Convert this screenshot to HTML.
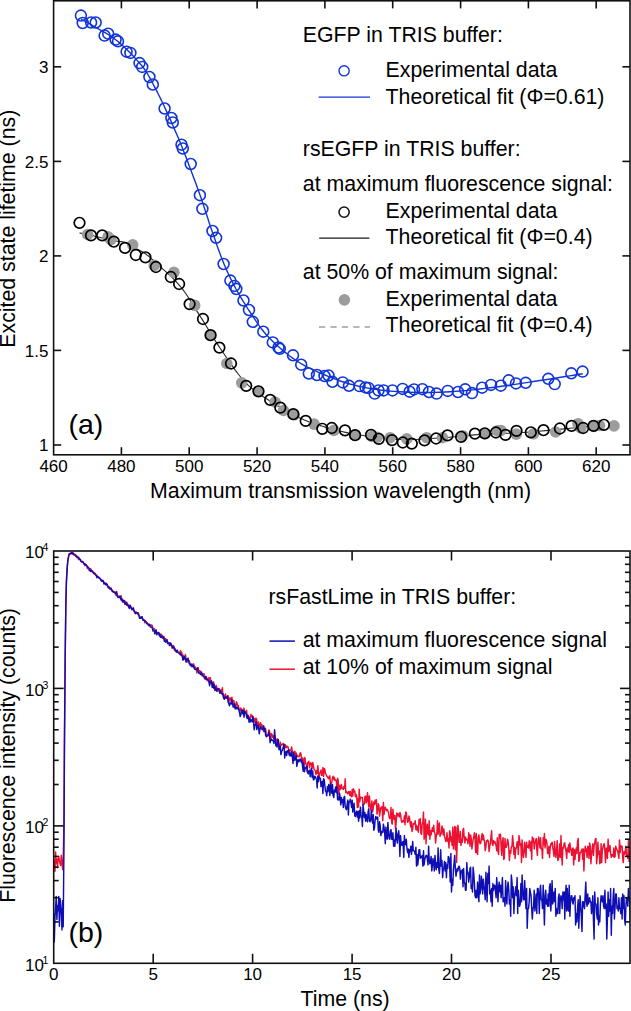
<!DOCTYPE html>
<html><head><meta charset="utf-8"><style>
html,body{margin:0;padding:0;background:#fff;width:631px;height:1011px;overflow:hidden;position:relative}
svg text{font-family:"Liberation Sans", sans-serif;fill:#000}
</style></head><body>
<svg width="631" height="1011" viewBox="0 0 631 1011" style="display:block;position:absolute;left:0;top:0">
<rect width="631" height="1011" fill="#fff"/>
<polyline points="79.5,233.0 80.2,233.1 81.1,233.3 82.1,233.4 83.3,233.7 84.7,233.9 86.2,234.2 88.0,234.6 90.0,235.0 92.4,235.5 95.1,236.2 98.2,237.0 101.4,237.8 104.6,238.5 107.7,239.3 110.6,240.0 113.0,240.5 115.0,240.9 116.8,241.2 118.4,241.4 119.8,241.5 121.1,241.6 122.4,241.8 123.7,242.1 125.0,242.5 126.3,243.0 127.6,243.6 128.9,244.3 130.1,245.0 131.3,245.8 132.5,246.5 133.8,247.3 135.0,248.0 136.2,248.7 137.5,249.3 138.8,249.9 140.0,250.6 141.2,251.2 142.5,251.9 143.8,252.7 145.0,253.5 146.1,254.3 147.1,255.1 148.1,255.8 149.1,256.6 150.2,257.5 151.4,258.7 153.0,260.2 155.0,262.0 157.4,264.2 160.3,266.8 163.5,269.6 166.9,272.7 170.3,275.9 173.8,279.2 177.0,282.6 180.0,286.0 182.7,289.4 185.4,293.0 187.9,296.7 190.3,300.5 192.7,304.3 195.1,308.2 197.5,312.1 200.0,316.0 202.5,319.9 204.9,323.8 207.3,327.8 209.7,331.8 212.1,335.8 214.6,339.8 217.3,343.9 220.0,348.0 222.9,352.3 225.9,356.7 229.0,361.3 232.2,365.8 235.4,370.3 238.6,374.5 241.8,378.5 245.0,382.0 248.1,385.1 251.1,387.9 254.2,390.3 257.2,392.6 260.3,394.7 263.4,396.7 266.6,398.8 270.0,401.0 273.5,403.3 277.1,405.5 280.9,407.8 284.7,410.0 288.5,412.2 292.4,414.3 296.2,416.2 300.0,418.0 303.8,419.7 307.5,421.2 311.2,422.6 315.0,423.9 318.8,425.1 322.5,426.3 326.2,427.4 330.0,428.5 333.7,429.5 337.3,430.5 340.8,431.3 344.4,432.1 348.0,432.9 351.8,433.6 355.8,434.3 360.0,435.0 364.5,435.7 369.3,436.4 374.3,437.1 379.4,437.8 384.6,438.3 389.8,438.8 394.9,439.2 400.0,439.5 405.0,439.6 410.0,439.6 415.0,439.5 420.0,439.2 425.0,439.0 430.0,438.7 435.0,438.3 440.0,438.0 444.9,437.7 449.8,437.2 454.6,436.8 459.4,436.3 464.3,435.8 469.3,435.4 474.5,434.9 480.0,434.5 485.6,434.2 491.2,433.9 497.0,433.7 502.9,433.5 509.1,433.2 515.6,432.9 522.5,432.5 530.0,432.0 538.6,431.3 548.5,430.4 559.2,429.4 570.1,428.3 580.6,427.3 590.1,426.4 598.1,425.6 604.0,425.0" fill="none" stroke="#2a2a2a" stroke-width="1.15"/>
<circle cx="87.6" cy="234.5" r="5.8" fill="#9c9c9c"/>
<circle cx="108" cy="236.9" r="5.8" fill="#9c9c9c"/>
<circle cx="110.8" cy="239.6" r="5.8" fill="#9c9c9c"/>
<circle cx="132.7" cy="244.8" r="5.8" fill="#9c9c9c"/>
<circle cx="154.2" cy="265.4" r="5.8" fill="#9c9c9c"/>
<circle cx="173.9" cy="272.3" r="5.8" fill="#9c9c9c"/>
<circle cx="194.7" cy="305.4" r="5.8" fill="#9c9c9c"/>
<circle cx="210.3" cy="335.5" r="5.8" fill="#9c9c9c"/>
<circle cx="226.8" cy="363.5" r="5.8" fill="#9c9c9c"/>
<circle cx="241.7" cy="382.8" r="5.8" fill="#9c9c9c"/>
<circle cx="258.2" cy="391.3" r="5.8" fill="#9c9c9c"/>
<circle cx="275" cy="402" r="5.8" fill="#9c9c9c"/>
<circle cx="283.5" cy="410.5" r="5.8" fill="#9c9c9c"/>
<circle cx="294.2" cy="414.8" r="5.8" fill="#9c9c9c"/>
<circle cx="314.1" cy="424.1" r="5.8" fill="#9c9c9c"/>
<circle cx="333.9" cy="430.4" r="5.8" fill="#9c9c9c"/>
<circle cx="354.8" cy="435.2" r="5.8" fill="#9c9c9c"/>
<circle cx="371.9" cy="436.5" r="5.8" fill="#9c9c9c"/>
<circle cx="377.1" cy="437.3" r="5.8" fill="#9c9c9c"/>
<circle cx="390.1" cy="437.7" r="5.8" fill="#9c9c9c"/>
<circle cx="406.8" cy="438.9" r="5.8" fill="#9c9c9c"/>
<circle cx="426.6" cy="437.7" r="5.8" fill="#9c9c9c"/>
<circle cx="442.4" cy="437.7" r="5.8" fill="#9c9c9c"/>
<circle cx="462.7" cy="435.7" r="5.8" fill="#9c9c9c"/>
<circle cx="484.9" cy="433.6" r="5.8" fill="#9c9c9c"/>
<circle cx="497.5" cy="430.9" r="5.8" fill="#9c9c9c"/>
<circle cx="501" cy="430.5" r="5.8" fill="#9c9c9c"/>
<circle cx="516.2" cy="434.1" r="5.8" fill="#9c9c9c"/>
<circle cx="533.5" cy="433.8" r="5.8" fill="#9c9c9c"/>
<circle cx="555.6" cy="432" r="5.8" fill="#9c9c9c"/>
<circle cx="578" cy="423.7" r="5.8" fill="#9c9c9c"/>
<circle cx="580.8" cy="428" r="5.8" fill="#9c9c9c"/>
<circle cx="594" cy="426.4" r="5.8" fill="#9c9c9c"/>
<circle cx="599.5" cy="425.5" r="5.8" fill="#9c9c9c"/>
<circle cx="614" cy="425.9" r="5.8" fill="#9c9c9c"/>
<circle cx="79.5" cy="222.8" r="5.3" fill="none" stroke="#000" stroke-width="1.7"/>
<circle cx="91.0" cy="235.4" r="5.3" fill="none" stroke="#000" stroke-width="1.7"/>
<circle cx="102.2" cy="235.4" r="5.3" fill="none" stroke="#000" stroke-width="1.7"/>
<circle cx="113.8" cy="241.7" r="5.3" fill="none" stroke="#000" stroke-width="1.7"/>
<circle cx="125.0" cy="247.9" r="5.3" fill="none" stroke="#000" stroke-width="1.7"/>
<circle cx="135.8" cy="255" r="5.3" fill="none" stroke="#000" stroke-width="1.7"/>
<circle cx="145.4" cy="257.3" r="5.3" fill="none" stroke="#000" stroke-width="1.7"/>
<circle cx="155.9" cy="267" r="5.3" fill="none" stroke="#000" stroke-width="1.7"/>
<circle cx="170.8" cy="277" r="5.3" fill="none" stroke="#000" stroke-width="1.7"/>
<circle cx="179.10000000000002" cy="284" r="5.3" fill="none" stroke="#000" stroke-width="1.7"/>
<circle cx="189.60000000000002" cy="304.1" r="5.3" fill="none" stroke="#000" stroke-width="1.7"/>
<circle cx="203.0" cy="319" r="5.3" fill="none" stroke="#000" stroke-width="1.7"/>
<circle cx="210.60000000000002" cy="335.2" r="5.3" fill="none" stroke="#000" stroke-width="1.7"/>
<circle cx="219.4" cy="347.6" r="5.3" fill="none" stroke="#000" stroke-width="1.7"/>
<circle cx="231.0" cy="363.5" r="5.3" fill="none" stroke="#000" stroke-width="1.7"/>
<circle cx="246.20000000000002" cy="385.9" r="5.3" fill="none" stroke="#000" stroke-width="1.7"/>
<circle cx="258.5" cy="391.3" r="5.3" fill="none" stroke="#000" stroke-width="1.7"/>
<circle cx="270.2" cy="399.9" r="5.3" fill="none" stroke="#000" stroke-width="1.7"/>
<circle cx="280.3" cy="407.6" r="5.3" fill="none" stroke="#000" stroke-width="1.7"/>
<circle cx="293.3" cy="414.2" r="5.3" fill="none" stroke="#000" stroke-width="1.7"/>
<circle cx="305.7" cy="420.9" r="5.3" fill="none" stroke="#000" stroke-width="1.7"/>
<circle cx="322.3" cy="428.8" r="5.3" fill="none" stroke="#000" stroke-width="1.7"/>
<circle cx="331.8" cy="428" r="5.3" fill="none" stroke="#000" stroke-width="1.7"/>
<circle cx="345.0" cy="430.4" r="5.3" fill="none" stroke="#000" stroke-width="1.7"/>
<circle cx="355.1" cy="435.2" r="5.3" fill="none" stroke="#000" stroke-width="1.7"/>
<circle cx="371.0" cy="434.9" r="5.3" fill="none" stroke="#000" stroke-width="1.7"/>
<circle cx="378.8" cy="438.8" r="5.3" fill="none" stroke="#000" stroke-width="1.7"/>
<circle cx="392.0" cy="440.1" r="5.3" fill="none" stroke="#000" stroke-width="1.7"/>
<circle cx="402.8" cy="442.5" r="5.3" fill="none" stroke="#000" stroke-width="1.7"/>
<circle cx="411.8" cy="443.6" r="5.3" fill="none" stroke="#000" stroke-width="1.7"/>
<circle cx="424.5" cy="440.4" r="5.3" fill="none" stroke="#000" stroke-width="1.7"/>
<circle cx="436.1" cy="438.5" r="5.3" fill="none" stroke="#000" stroke-width="1.7"/>
<circle cx="447.5" cy="435.4" r="5.3" fill="none" stroke="#000" stroke-width="1.7"/>
<circle cx="461.1" cy="436.8" r="5.3" fill="none" stroke="#000" stroke-width="1.7"/>
<circle cx="474.90000000000003" cy="433.6" r="5.3" fill="none" stroke="#000" stroke-width="1.7"/>
<circle cx="484.8" cy="433.3" r="5.3" fill="none" stroke="#000" stroke-width="1.7"/>
<circle cx="495.90000000000003" cy="432.5" r="5.3" fill="none" stroke="#000" stroke-width="1.7"/>
<circle cx="505.5" cy="434.9" r="5.3" fill="none" stroke="#000" stroke-width="1.7"/>
<circle cx="516.5" cy="430.9" r="5.3" fill="none" stroke="#000" stroke-width="1.7"/>
<circle cx="530.8" cy="432.3" r="5.3" fill="none" stroke="#000" stroke-width="1.7"/>
<circle cx="543.5" cy="430.2" r="5.3" fill="none" stroke="#000" stroke-width="1.7"/>
<circle cx="559.9" cy="428.5" r="5.3" fill="none" stroke="#000" stroke-width="1.7"/>
<circle cx="571.5999999999999" cy="425.9" r="5.3" fill="none" stroke="#000" stroke-width="1.7"/>
<circle cx="583.0999999999999" cy="428" r="5.3" fill="none" stroke="#000" stroke-width="1.7"/>
<circle cx="593.5" cy="425.9" r="5.3" fill="none" stroke="#000" stroke-width="1.7"/>
<circle cx="603.9" cy="424.8" r="5.3" fill="none" stroke="#000" stroke-width="1.7"/>
<polyline points="81.0,19.0 82.0,19.6 83.3,20.3 84.8,21.1 86.6,22.1 88.5,23.2 90.5,24.4 92.7,25.6 95.0,27.0 97.4,28.4 100.1,29.9 102.9,31.5 105.9,33.2 108.9,35.0 112.0,37.0 115.0,39.2 118.0,41.5 121.0,44.1 124.2,47.1 127.5,50.2 130.8,53.5 133.9,56.8 136.9,60.1 139.6,63.2 142.0,66.0 144.0,68.5 145.6,70.8 147.0,73.0 148.2,75.0 149.4,77.1 150.5,79.2 151.7,81.5 153.0,84.0 154.4,86.6 155.8,89.2 157.2,91.9 158.6,94.7 160.1,97.6 161.6,100.8 163.3,104.2 165.0,108.0 166.9,112.1 168.9,116.5 171.0,121.1 173.1,126.0 175.3,131.1 177.6,136.3 179.8,141.6 182.0,147.0 184.2,152.7 186.6,158.6 188.9,164.9 191.3,171.2 193.6,177.5 195.9,183.6 198.0,189.5 200.0,195.0 201.8,200.1 203.4,204.9 204.9,209.5 206.4,213.9 207.8,218.2 209.1,222.5 210.5,226.7 212.0,231.0 213.5,235.3 215.0,239.6 216.5,243.9 218.0,248.2 219.5,252.3 221.0,256.4 222.5,260.3 224.0,264.0 225.5,267.5 227.0,270.9 228.4,274.0 229.9,277.1 231.4,280.1 232.9,283.1 234.4,286.0 236.0,289.0 237.7,292.0 239.4,295.0 241.1,297.9 242.9,300.8 244.7,303.7 246.5,306.5 248.2,309.3 250.0,312.0 251.7,314.7 253.5,317.3 255.2,319.9 256.9,322.4 258.6,324.9 260.4,327.4 262.2,329.7 264.0,332.0 265.9,334.2 267.8,336.3 269.7,338.3 271.6,340.3 273.6,342.2 275.7,344.2 277.8,346.1 280.0,348.0 282.3,349.9 284.6,351.9 287.0,353.8 289.4,355.8 292.0,357.6 294.6,359.5 297.2,361.3 300.0,363.0 302.9,364.7 305.9,366.3 309.0,367.9 312.2,369.4 315.4,370.9 318.6,372.3 321.8,373.7 325.0,375.0 328.1,376.3 331.1,377.5 334.2,378.7 337.2,379.9 340.3,381.0 343.4,382.0 346.6,383.0 350.0,384.0 353.4,384.9 356.9,385.8 360.4,386.6 364.1,387.4 367.8,388.1 371.7,388.8 375.7,389.4 380.0,390.0 384.5,390.5 389.3,391.0 394.3,391.4 399.4,391.7 404.6,392.0 409.8,392.2 414.9,392.4 420.0,392.5 425.0,392.5 430.0,392.5 435.0,392.4 440.0,392.2 445.0,392.0 450.0,391.7 455.0,391.4 460.0,391.0 465.0,390.6 470.0,390.1 475.0,389.6 480.0,389.0 485.0,388.4 490.0,387.8 495.0,387.2 500.0,386.5 505.0,385.8 509.9,385.1 514.9,384.4 519.8,383.6 524.8,382.9 529.8,382.1 534.9,381.3 540.0,380.5 545.5,379.7 551.5,378.7 557.7,377.7 563.9,376.8 569.7,375.9 575.0,375.0 579.4,374.3 582.7,373.8" fill="none" stroke="#1034d8" stroke-width="1.4"/>
<circle cx="80.9" cy="15.6" r="5.45" fill="none" stroke="#1034d8" stroke-width="1.6"/>
<circle cx="82.7" cy="23" r="5.45" fill="none" stroke="#1034d8" stroke-width="1.6"/>
<circle cx="91.1" cy="22.5" r="5.45" fill="none" stroke="#1034d8" stroke-width="1.6"/>
<circle cx="95.7" cy="22.5" r="5.45" fill="none" stroke="#1034d8" stroke-width="1.6"/>
<circle cx="104.6" cy="35.6" r="5.45" fill="none" stroke="#1034d8" stroke-width="1.6"/>
<circle cx="108.2" cy="33.7" r="5.45" fill="none" stroke="#1034d8" stroke-width="1.6"/>
<circle cx="115.6" cy="39.6" r="5.45" fill="none" stroke="#1034d8" stroke-width="1.6"/>
<circle cx="118" cy="41.3" r="5.45" fill="none" stroke="#1034d8" stroke-width="1.6"/>
<circle cx="126.6" cy="51.7" r="5.45" fill="none" stroke="#1034d8" stroke-width="1.6"/>
<circle cx="130.4" cy="52.9" r="5.45" fill="none" stroke="#1034d8" stroke-width="1.6"/>
<circle cx="139.5" cy="63.1" r="5.45" fill="none" stroke="#1034d8" stroke-width="1.6"/>
<circle cx="142.2" cy="66.9" r="5.45" fill="none" stroke="#1034d8" stroke-width="1.6"/>
<circle cx="149.4" cy="77" r="5.45" fill="none" stroke="#1034d8" stroke-width="1.6"/>
<circle cx="152.8" cy="84.5" r="5.45" fill="none" stroke="#1034d8" stroke-width="1.6"/>
<circle cx="164.6" cy="108.5" r="5.45" fill="none" stroke="#1034d8" stroke-width="1.6"/>
<circle cx="171.4" cy="118" r="5.45" fill="none" stroke="#1034d8" stroke-width="1.6"/>
<circle cx="172.8" cy="122.5" r="5.45" fill="none" stroke="#1034d8" stroke-width="1.6"/>
<circle cx="181.5" cy="144.7" r="5.45" fill="none" stroke="#1034d8" stroke-width="1.6"/>
<circle cx="182.8" cy="148.5" r="5.45" fill="none" stroke="#1034d8" stroke-width="1.6"/>
<circle cx="190.7" cy="164" r="5.45" fill="none" stroke="#1034d8" stroke-width="1.6"/>
<circle cx="199.9" cy="195.2" r="5.45" fill="none" stroke="#1034d8" stroke-width="1.6"/>
<circle cx="202.4" cy="208.8" r="5.45" fill="none" stroke="#1034d8" stroke-width="1.6"/>
<circle cx="212.5" cy="231" r="5.45" fill="none" stroke="#1034d8" stroke-width="1.6"/>
<circle cx="216.1" cy="237.8" r="5.45" fill="none" stroke="#1034d8" stroke-width="1.6"/>
<circle cx="223.6" cy="264" r="5.45" fill="none" stroke="#1034d8" stroke-width="1.6"/>
<circle cx="230.4" cy="280.6" r="5.45" fill="none" stroke="#1034d8" stroke-width="1.6"/>
<circle cx="234.4" cy="285.9" r="5.45" fill="none" stroke="#1034d8" stroke-width="1.6"/>
<circle cx="236.3" cy="289" r="5.45" fill="none" stroke="#1034d8" stroke-width="1.6"/>
<circle cx="243.5" cy="300.5" r="5.45" fill="none" stroke="#1034d8" stroke-width="1.6"/>
<circle cx="249" cy="310" r="5.45" fill="none" stroke="#1034d8" stroke-width="1.6"/>
<circle cx="252.8" cy="321.8" r="5.45" fill="none" stroke="#1034d8" stroke-width="1.6"/>
<circle cx="263.3" cy="331.7" r="5.45" fill="none" stroke="#1034d8" stroke-width="1.6"/>
<circle cx="272.8" cy="342.4" r="5.45" fill="none" stroke="#1034d8" stroke-width="1.6"/>
<circle cx="278.5" cy="347.5" r="5.45" fill="none" stroke="#1034d8" stroke-width="1.6"/>
<circle cx="279.8" cy="348.8" r="5.45" fill="none" stroke="#1034d8" stroke-width="1.6"/>
<circle cx="293" cy="355.3" r="5.45" fill="none" stroke="#1034d8" stroke-width="1.6"/>
<circle cx="301.2" cy="364.7" r="5.45" fill="none" stroke="#1034d8" stroke-width="1.6"/>
<circle cx="308.8" cy="373.5" r="5.45" fill="none" stroke="#1034d8" stroke-width="1.6"/>
<circle cx="317" cy="375" r="5.45" fill="none" stroke="#1034d8" stroke-width="1.6"/>
<circle cx="324.5" cy="376" r="5.45" fill="none" stroke="#1034d8" stroke-width="1.6"/>
<circle cx="328.5" cy="375.5" r="5.45" fill="none" stroke="#1034d8" stroke-width="1.6"/>
<circle cx="332.5" cy="381.8" r="5.45" fill="none" stroke="#1034d8" stroke-width="1.6"/>
<circle cx="342.8" cy="382.4" r="5.45" fill="none" stroke="#1034d8" stroke-width="1.6"/>
<circle cx="349" cy="385.8" r="5.45" fill="none" stroke="#1034d8" stroke-width="1.6"/>
<circle cx="359.5" cy="386.1" r="5.45" fill="none" stroke="#1034d8" stroke-width="1.6"/>
<circle cx="365.5" cy="387.4" r="5.45" fill="none" stroke="#1034d8" stroke-width="1.6"/>
<circle cx="368.4" cy="387.9" r="5.45" fill="none" stroke="#1034d8" stroke-width="1.6"/>
<circle cx="374.7" cy="393.6" r="5.45" fill="none" stroke="#1034d8" stroke-width="1.6"/>
<circle cx="378.5" cy="390.4" r="5.45" fill="none" stroke="#1034d8" stroke-width="1.6"/>
<circle cx="383.6" cy="390.4" r="5.45" fill="none" stroke="#1034d8" stroke-width="1.6"/>
<circle cx="392.5" cy="390.4" r="5.45" fill="none" stroke="#1034d8" stroke-width="1.6"/>
<circle cx="402.6" cy="388.9" r="5.45" fill="none" stroke="#1034d8" stroke-width="1.6"/>
<circle cx="409.6" cy="391.7" r="5.45" fill="none" stroke="#1034d8" stroke-width="1.6"/>
<circle cx="414" cy="389.4" r="5.45" fill="none" stroke="#1034d8" stroke-width="1.6"/>
<circle cx="422.4" cy="389.2" r="5.45" fill="none" stroke="#1034d8" stroke-width="1.6"/>
<circle cx="429" cy="392" r="5.45" fill="none" stroke="#1034d8" stroke-width="1.6"/>
<circle cx="436.6" cy="393.6" r="5.45" fill="none" stroke="#1034d8" stroke-width="1.6"/>
<circle cx="447.7" cy="390.9" r="5.45" fill="none" stroke="#1034d8" stroke-width="1.6"/>
<circle cx="458" cy="392" r="5.45" fill="none" stroke="#1034d8" stroke-width="1.6"/>
<circle cx="465.2" cy="389.3" r="5.45" fill="none" stroke="#1034d8" stroke-width="1.6"/>
<circle cx="472" cy="393.1" r="5.45" fill="none" stroke="#1034d8" stroke-width="1.6"/>
<circle cx="482.1" cy="387.7" r="5.45" fill="none" stroke="#1034d8" stroke-width="1.6"/>
<circle cx="491" cy="384.9" r="5.45" fill="none" stroke="#1034d8" stroke-width="1.6"/>
<circle cx="500.8" cy="385.7" r="5.45" fill="none" stroke="#1034d8" stroke-width="1.6"/>
<circle cx="508.7" cy="380.3" r="5.45" fill="none" stroke="#1034d8" stroke-width="1.6"/>
<circle cx="516" cy="383.4" r="5.45" fill="none" stroke="#1034d8" stroke-width="1.6"/>
<circle cx="525.7" cy="382.8" r="5.45" fill="none" stroke="#1034d8" stroke-width="1.6"/>
<circle cx="548.3" cy="378.8" r="5.45" fill="none" stroke="#1034d8" stroke-width="1.6"/>
<circle cx="554.7" cy="384.1" r="5.45" fill="none" stroke="#1034d8" stroke-width="1.6"/>
<circle cx="571.3" cy="373.3" r="5.45" fill="none" stroke="#1034d8" stroke-width="1.6"/>
<circle cx="582.6" cy="371.6" r="5.45" fill="none" stroke="#1034d8" stroke-width="1.6"/>
<rect x="53.6" y="0.8" width="576.4" height="454.0" fill="none" stroke="#111" stroke-width="1.6"/>
<text x="53.6" y="471.5" text-anchor="middle" font-size="17">460</text>
<line x1="121.4" y1="454.8" x2="121.4" y2="447.2" stroke="#111" stroke-width="1.6"/>
<line x1="121.4" y1="0.8" x2="121.4" y2="8.4" stroke="#111" stroke-width="1.6"/>
<text x="121.4" y="471.5" text-anchor="middle" font-size="17">480</text>
<line x1="189.2" y1="454.8" x2="189.2" y2="447.2" stroke="#111" stroke-width="1.6"/>
<line x1="189.2" y1="0.8" x2="189.2" y2="8.4" stroke="#111" stroke-width="1.6"/>
<text x="189.2" y="471.5" text-anchor="middle" font-size="17">500</text>
<line x1="257.1" y1="454.8" x2="257.1" y2="447.2" stroke="#111" stroke-width="1.6"/>
<line x1="257.1" y1="0.8" x2="257.1" y2="8.4" stroke="#111" stroke-width="1.6"/>
<text x="257.1" y="471.5" text-anchor="middle" font-size="17">520</text>
<line x1="324.9" y1="454.8" x2="324.9" y2="447.2" stroke="#111" stroke-width="1.6"/>
<line x1="324.9" y1="0.8" x2="324.9" y2="8.4" stroke="#111" stroke-width="1.6"/>
<text x="324.9" y="471.5" text-anchor="middle" font-size="17">540</text>
<line x1="392.7" y1="454.8" x2="392.7" y2="447.2" stroke="#111" stroke-width="1.6"/>
<line x1="392.7" y1="0.8" x2="392.7" y2="8.4" stroke="#111" stroke-width="1.6"/>
<text x="392.7" y="471.5" text-anchor="middle" font-size="17">560</text>
<line x1="460.6" y1="454.8" x2="460.6" y2="447.2" stroke="#111" stroke-width="1.6"/>
<line x1="460.6" y1="0.8" x2="460.6" y2="8.4" stroke="#111" stroke-width="1.6"/>
<text x="460.6" y="471.5" text-anchor="middle" font-size="17">580</text>
<line x1="528.4" y1="454.8" x2="528.4" y2="447.2" stroke="#111" stroke-width="1.6"/>
<line x1="528.4" y1="0.8" x2="528.4" y2="8.4" stroke="#111" stroke-width="1.6"/>
<text x="528.4" y="471.5" text-anchor="middle" font-size="17">600</text>
<line x1="596.2" y1="454.8" x2="596.2" y2="447.2" stroke="#111" stroke-width="1.6"/>
<line x1="596.2" y1="0.8" x2="596.2" y2="8.4" stroke="#111" stroke-width="1.6"/>
<text x="596.2" y="471.5" text-anchor="middle" font-size="17">620</text>
<line x1="53.6" y1="445.0" x2="61.2" y2="445.0" stroke="#111" stroke-width="1.6"/>
<line x1="630.0" y1="445.0" x2="622.4" y2="445.0" stroke="#111" stroke-width="1.6"/>
<text x="48.4" y="451.3" text-anchor="end" font-size="17">1</text>
<line x1="53.6" y1="350.4" x2="61.2" y2="350.4" stroke="#111" stroke-width="1.6"/>
<line x1="630.0" y1="350.4" x2="622.4" y2="350.4" stroke="#111" stroke-width="1.6"/>
<text x="48.4" y="356.8" text-anchor="end" font-size="17">1.5</text>
<line x1="53.6" y1="255.9" x2="61.2" y2="255.9" stroke="#111" stroke-width="1.6"/>
<line x1="630.0" y1="255.9" x2="622.4" y2="255.9" stroke="#111" stroke-width="1.6"/>
<text x="48.4" y="262.2" text-anchor="end" font-size="17">2</text>
<line x1="53.6" y1="161.4" x2="61.2" y2="161.4" stroke="#111" stroke-width="1.6"/>
<line x1="630.0" y1="161.4" x2="622.4" y2="161.4" stroke="#111" stroke-width="1.6"/>
<text x="48.4" y="167.7" text-anchor="end" font-size="17">2.5</text>
<line x1="53.6" y1="66.8" x2="61.2" y2="66.8" stroke="#111" stroke-width="1.6"/>
<line x1="630.0" y1="66.8" x2="622.4" y2="66.8" stroke="#111" stroke-width="1.6"/>
<text x="48.4" y="73.1" text-anchor="end" font-size="17">3</text>
<text x="340.6" y="497.8" text-anchor="middle" font-size="21.3">Maximum transmission wavelength (nm)</text>
<text transform="translate(15.3,228.7) rotate(-90)" text-anchor="middle" font-size="21.3">Excited state lifetime (ns)</text>
<text x="68.5" y="433.8" font-size="28.5">(a)</text>
<text x="302.8" y="41.8" font-size="21.3">EGFP in TRIS buffer:</text>
<circle cx="344.1" cy="70.8" r="5.1" fill="none" stroke="#1034d8" stroke-width="1.4"/>
<text x="385.6" y="76.9" font-size="21.3">Experimental data</text>
<line x1="318.6" y1="97.1" x2="370" y2="97.1" stroke="#1034d8" stroke-width="1.4"/>
<text x="385.6" y="103.8" font-size="21.3">Theoretical fit (Φ=0.61)</text>
<text x="302.8" y="156.4" font-size="21.3">rsEGFP in TRIS buffer:</text>
<text x="302.8" y="191.3" font-size="21.3">at maximum fluorescence signal:</text>
<circle cx="344.1" cy="212.1" r="5.1" fill="none" stroke="#111" stroke-width="1.5"/>
<text x="385.6" y="218" font-size="21.3">Experimental data</text>
<line x1="319.2" y1="238.1" x2="369.4" y2="238.1" stroke="#1a1a1a" stroke-width="1.4"/>
<text x="385.6" y="244.4" font-size="21.3">Theoretical fit (Φ=0.4)</text>
<text x="302.8" y="279.3" font-size="21.3">at 50% of maximum signal:</text>
<circle cx="344.4" cy="299.9" r="5.8" fill="#9c9c9c"/>
<text x="385.6" y="306" font-size="21.3">Experimental data</text>
<line x1="319" y1="326.9" x2="370" y2="326.9" stroke="#a0a0a0" stroke-width="1.5" stroke-dasharray="6.3 5.1"/>
<text x="385.6" y="332.1" font-size="21.3">Theoretical fit (Φ=0.4)</text>
<defs><clipPath id="cb"><rect x="53.7" y="551.0" width="576.3" height="412.29999999999995"/></clipPath></defs>
<g clip-path="url(#cb)">
<polyline points="53.7,868.4 54.3,860.3 55.0,871.4 55.6,851.9 56.2,863.5 56.9,859.0 57.5,867.7 58.2,859.0 58.8,856.5 59.4,860.9 60.1,863.5 60.7,865.5 61.3,855.3 62.0,862.1 62.6,869.8 63.2,860.7 63.9,824.7 64.5,731.0 65.2,659.0 65.8,607.2 66.4,580.6 67.1,569.1 67.7,561.7 68.3,558.9 69.0,554.4 69.6,554.1 70.2,554.1 70.9,552.9 71.5,552.4 72.2,554.3 72.8,552.5 73.4,553.3 74.1,555.3 74.7,555.2 75.3,555.4 76.0,556.5 76.6,555.3 77.2,557.2 77.9,557.3 78.5,559.5 79.2,559.4 79.8,559.1 80.4,559.8 81.1,561.5 81.7,562.1 82.3,561.3 83.0,562.0 83.6,563.4 84.3,564.2 84.9,565.7 85.5,564.7 86.2,565.5 86.8,565.9 87.4,568.6 88.1,567.2 88.7,568.3 89.3,568.8 90.0,569.5 90.6,568.6 91.3,571.5 91.9,570.5 92.5,570.9 93.2,573.0 93.8,572.3 94.4,572.8 95.1,573.3 95.7,575.5 96.3,575.2 97.0,575.5 97.6,577.0 98.3,577.3 98.9,578.0 99.5,578.3 100.2,578.4 100.8,580.6 101.4,579.9 102.1,581.5 102.7,580.5 103.3,580.6 104.0,582.8 104.6,583.3 105.3,583.8 105.9,583.1 106.5,584.2 107.2,584.7 107.8,585.8 108.4,586.4 109.1,586.7 109.7,587.8 110.3,589.6 111.0,589.3 111.6,589.3 112.3,590.3 112.9,591.8 113.5,591.6 114.2,592.0 114.8,592.5 115.4,594.1 116.1,595.4 116.7,591.4 117.3,596.2 118.0,596.4 118.6,596.1 119.3,597.4 119.9,596.6 120.5,598.2 121.2,595.8 121.8,600.2 122.4,599.7 123.1,602.4 123.7,601.2 124.3,601.3 125.0,604.4 125.6,601.5 126.3,603.7 126.9,602.3 127.5,603.8 128.2,606.2 128.8,607.3 129.4,605.4 130.1,607.1 130.7,606.1 131.4,607.6 132.0,609.7 132.6,608.7 133.3,609.4 133.9,610.7 134.5,612.2 135.2,611.7 135.8,613.4 136.4,613.2 137.1,613.3 137.7,612.6 138.4,612.7 139.0,615.4 139.6,616.2 140.3,617.3 140.9,617.2 141.5,617.9 142.2,617.8 142.8,618.8 143.4,619.7 144.1,619.8 144.7,622.7 145.4,621.6 146.0,621.6 146.6,622.9 147.3,622.8 147.9,624.0 148.5,624.6 149.2,624.6 149.8,625.9 150.4,626.2 151.1,625.0 151.7,624.9 152.4,625.9 153.0,628.7 153.6,629.2 154.3,628.6 154.9,629.5 155.5,631.7 156.2,630.7 156.8,632.7 157.4,633.3 158.1,634.0 158.7,632.5 159.4,635.0 160.0,635.6 160.6,637.3 161.3,634.2 161.9,637.5 162.5,635.6 163.2,638.3 163.8,637.3 164.4,640.4 165.1,638.6 165.7,638.4 166.4,641.1 167.0,639.6 167.6,641.7 168.3,643.0 168.9,642.9 169.5,643.0 170.2,642.8 170.8,645.4 171.4,645.9 172.1,648.2 172.7,646.6 173.4,645.5 174.0,647.4 174.6,650.1 175.3,648.8 175.9,651.0 176.5,650.9 177.2,650.4 177.8,652.1 178.5,652.5 179.1,652.7 179.7,654.2 180.4,650.5 181.0,652.6 181.6,652.1 182.3,655.2 182.9,655.1 183.5,656.1 184.2,657.4 184.8,658.9 185.5,654.5 186.1,660.7 186.7,660.2 187.4,662.0 188.0,658.0 188.6,660.8 189.3,660.8 189.9,663.1 190.5,665.5 191.2,665.0 191.8,665.1 192.5,665.6 193.1,663.8 193.7,664.1 194.4,668.0 195.0,668.4 195.6,666.9 196.3,669.6 196.9,672.9 197.5,669.1 198.2,667.7 198.8,672.5 199.5,670.8 200.1,671.0 200.7,671.8 201.4,673.0 202.0,675.7 202.6,674.4 203.3,675.6 203.9,673.4 204.5,675.3 205.2,679.3 205.8,676.8 206.5,676.7 207.1,680.8 207.7,678.9 208.4,678.8 209.0,677.6 209.6,683.1 210.3,677.7 210.9,682.9 211.5,683.0 212.2,684.3 212.8,683.1 213.5,681.8 214.1,685.5 214.7,690.6 215.4,687.0 216.0,685.5 216.6,686.3 217.3,691.2 217.9,689.8 218.5,688.7 219.2,688.7 219.8,693.2 220.5,691.3 221.1,689.6 221.7,691.7 222.4,687.8 223.0,696.0 223.6,694.8 224.3,697.2 224.9,695.9 225.5,693.9 226.2,697.6 226.8,697.4 227.5,696.6 228.1,695.7 228.7,703.6 229.4,698.6 230.0,697.6 230.6,700.9 231.3,699.5 231.9,697.3 232.6,703.0 233.2,701.2 233.8,700.4 234.5,705.4 235.1,704.5 235.7,706.3 236.4,701.8 237.0,703.3 237.6,706.0 238.3,705.4 238.9,708.2 239.6,710.1 240.2,710.9 240.8,708.0 241.5,709.8 242.1,709.5 242.7,713.2 243.4,711.3 244.0,708.1 244.6,713.1 245.3,713.1 245.9,711.3 246.6,710.3 247.2,717.3 247.8,714.7 248.5,716.6 249.1,717.2 249.7,718.7 250.4,717.5 251.0,714.3 251.6,716.9 252.3,715.8 252.9,717.0 253.6,718.5 254.2,721.6 254.8,718.4 255.5,723.1 256.1,718.1 256.7,719.5 257.4,724.8 258.0,727.7 258.6,721.9 259.3,725.7 259.9,727.2 260.6,722.8 261.2,729.3 261.8,724.4 262.5,728.2 263.1,728.3 263.7,731.6 264.4,731.4 265.0,727.9 265.6,728.9 266.3,734.4 266.9,735.4 267.6,736.0 268.2,735.8 268.8,730.0 269.5,730.8 270.1,735.0 270.7,738.9 271.4,733.6 272.0,734.3 272.6,737.3 273.3,735.6 273.9,738.8 274.6,736.4 275.2,736.5 275.8,739.4 276.5,743.6 277.1,739.4 277.7,738.9 278.4,744.0 279.0,746.7 279.7,746.3 280.3,742.1 280.9,744.6 281.6,745.3 282.2,744.5 282.8,743.9 283.5,743.4 284.1,746.8 284.7,747.6 285.4,744.8 286.0,747.9 286.7,745.9 287.3,747.1 287.9,746.7 288.6,749.6 289.2,754.1 289.8,749.9 290.5,750.8 291.1,749.7 291.7,747.0 292.4,752.5 293.0,751.6 293.7,760.9 294.3,753.7 294.9,751.1 295.6,754.8 296.2,753.0 296.8,756.8 297.5,755.2 298.1,756.8 298.7,756.4 299.4,756.6 300.0,753.2 300.7,752.8 301.3,756.4 301.9,762.9 302.6,758.0 303.2,761.5 303.8,764.8 304.5,757.4 305.1,758.5 305.7,763.8 306.4,764.6 307.0,771.7 307.7,762.5 308.3,763.1 308.9,761.3 309.6,767.9 310.2,764.2 310.8,762.7 311.5,764.0 312.1,768.2 312.7,762.5 313.4,765.7 314.0,769.3 314.7,770.0 315.3,770.5 315.9,774.4 316.6,770.7 317.2,773.4 317.8,765.7 318.5,772.9 319.1,778.3 319.7,772.9 320.4,772.6 321.0,770.0 321.7,775.6 322.3,774.6 322.9,767.5 323.6,776.4 324.2,768.4 324.8,769.5 325.5,773.4 326.1,774.4 326.7,775.9 327.4,776.7 328.0,778.0 328.7,778.8 329.3,776.2 329.9,775.9 330.6,786.9 331.2,782.2 331.8,782.4 332.5,777.5 333.1,776.2 333.8,779.4 334.4,777.5 335.0,780.5 335.7,779.9 336.3,780.5 336.9,789.8 337.6,778.3 338.2,780.2 338.8,794.5 339.5,785.1 340.1,789.8 340.8,787.6 341.4,784.5 342.0,788.5 342.7,788.2 343.3,789.5 343.9,786.6 344.6,788.2 345.2,778.8 345.8,792.8 346.5,791.5 347.1,792.5 347.8,793.8 348.4,792.1 349.0,791.5 349.7,795.3 350.3,791.5 350.9,796.0 351.6,796.7 352.2,789.5 352.8,796.0 353.5,788.8 354.1,791.8 354.8,791.1 355.4,796.7 356.0,794.2 356.7,796.0 357.3,807.5 357.9,798.6 358.6,807.1 359.2,789.1 359.8,801.7 360.5,797.1 361.1,797.4 361.8,797.8 362.4,797.4 363.0,804.5 363.7,804.5 364.3,804.1 364.9,796.7 365.6,796.0 366.2,802.9 366.8,801.3 367.5,792.8 368.1,798.9 368.8,807.1 369.4,796.0 370.0,804.1 370.7,809.7 371.3,808.0 371.9,800.9 372.6,812.1 373.2,808.4 373.8,802.1 374.5,804.5 375.1,800.1 375.8,803.7 376.4,799.7 377.0,814.0 377.7,810.2 378.3,803.7 378.9,805.8 379.6,816.0 380.2,811.1 380.9,807.5 381.5,808.0 382.1,806.6 382.8,820.7 383.4,802.5 384.0,814.5 384.7,809.3 385.3,807.1 385.9,809.3 386.6,810.7 387.2,809.3 387.9,811.1 388.5,812.5 389.1,817.0 389.8,818.6 390.4,817.5 391.0,807.5 391.7,823.0 392.3,824.1 392.9,809.3 393.6,816.0 394.2,819.6 394.9,815.5 395.5,828.9 396.1,823.5 396.8,813.0 397.4,816.0 398.0,813.5 398.7,815.0 399.3,817.0 399.9,812.5 400.6,814.5 401.2,820.2 401.9,822.4 402.5,820.7 403.1,821.3 403.8,821.8 404.4,816.0 405.0,824.7 405.7,812.1 406.3,812.5 406.9,817.5 407.6,822.4 408.2,821.3 408.9,816.0 409.5,818.0 410.1,823.5 410.8,827.1 411.4,821.8 412.0,831.5 412.7,828.9 413.3,823.5 413.9,824.1 414.6,824.1 415.2,820.7 415.9,829.6 416.5,825.3 417.1,830.2 417.8,826.5 418.4,832.2 419.0,819.6 419.7,824.1 420.3,818.6 420.9,833.5 421.6,834.2 422.2,824.1 422.9,821.8 423.5,812.1 424.1,839.2 424.8,832.8 425.4,819.1 426.0,843.8 426.7,827.7 427.3,824.1 428.0,834.2 428.6,834.9 429.2,820.7 429.9,839.2 430.5,830.8 431.1,834.9 431.8,830.8 432.4,827.7 433.0,831.5 433.7,825.3 434.3,832.2 435.0,833.5 435.6,843.0 436.2,837.0 436.9,832.8 437.5,820.7 438.1,834.2 438.8,826.5 439.4,823.0 440.0,836.3 440.7,834.2 441.3,833.5 442.0,825.9 442.6,828.9 443.2,834.9 443.9,828.9 444.5,836.3 445.1,838.4 445.8,841.5 446.4,839.9 447.0,832.8 447.7,841.5 448.3,838.4 449.0,848.0 449.6,830.8 450.2,832.8 450.9,841.5 451.5,837.0 452.1,845.5 452.8,827.1 453.4,848.9 454.0,839.9 454.7,826.5 455.3,849.8 456.0,827.1 456.6,862.6 457.2,842.2 457.9,825.3 458.5,830.8 459.1,842.2 459.8,842.2 460.4,831.5 461.0,845.5 461.7,839.2 462.3,842.2 463.0,829.6 463.6,828.3 464.2,837.7 464.9,843.0 465.5,837.0 466.1,839.9 466.8,839.2 467.4,839.9 468.0,843.8 468.7,832.8 469.3,835.6 470.0,846.3 470.6,834.9 471.2,838.4 471.9,848.9 472.5,843.8 473.1,839.9 473.8,837.0 474.4,832.8 475.0,837.7 475.7,852.5 476.3,833.5 477.0,852.5 477.6,854.4 478.2,837.7 478.9,834.9 479.5,841.5 480.1,843.8 480.8,843.0 481.4,838.4 482.1,833.5 482.7,839.9 483.3,834.9 484.0,839.2 484.6,842.2 485.2,850.7 485.9,847.2 486.5,840.7 487.1,841.5 487.8,839.9 488.4,841.5 489.1,851.6 489.7,846.3 490.3,843.8 491.0,836.3 491.6,830.8 492.2,843.8 492.9,845.5 493.5,840.7 494.1,843.0 494.8,841.5 495.4,843.8 496.1,845.5 496.7,850.7 497.3,837.7 498.0,851.6 498.6,854.4 499.2,834.2 499.9,837.7 500.5,834.2 501.1,846.3 501.8,855.4 502.4,841.5 503.1,837.7 503.7,859.4 504.3,858.4 505.0,838.4 505.6,847.2 506.2,847.2 506.9,844.7 507.5,839.2 508.1,841.5 508.8,848.9 509.4,860.5 510.1,850.7 510.7,853.4 511.3,847.2 512.0,846.3 512.6,835.6 513.2,842.2 513.9,854.4 514.5,847.2 515.1,858.4 515.8,848.9 516.4,848.0 517.1,842.2 517.7,841.5 518.3,854.4 519.0,835.6 519.6,839.9 520.2,845.5 520.9,843.8 521.5,862.6 522.1,839.9 522.8,850.7 523.4,857.4 524.1,852.5 524.7,842.2 525.3,848.9 526.0,857.4 526.6,842.2 527.2,847.2 527.9,846.3 528.5,848.0 529.2,840.7 529.8,844.7 530.4,850.7 531.1,841.5 531.7,859.4 532.3,837.0 533.0,842.2 533.6,838.4 534.2,848.9 534.9,843.0 535.5,841.5 536.2,838.4 536.8,849.8 537.4,855.4 538.1,840.7 538.7,837.0 539.3,843.0 540.0,848.0 540.6,837.7 541.2,848.9 541.9,848.9 542.5,858.4 543.2,837.7 543.8,844.7 544.4,833.5 545.1,848.0 545.7,839.2 546.3,839.9 547.0,843.8 547.6,853.4 548.2,853.4 548.9,846.3 549.5,857.4 550.2,848.0 550.8,843.8 551.4,844.7 552.1,842.2 552.7,847.2 553.3,850.7 554.0,856.4 554.6,841.5 555.2,850.7 555.9,857.4 556.5,850.7 557.2,840.7 557.8,860.5 558.4,859.4 559.1,853.4 559.7,843.8 560.3,857.4 561.0,835.6 561.6,854.4 562.2,864.9 562.9,847.2 563.5,848.0 564.2,843.0 564.8,843.0 565.4,848.0 566.1,851.6 566.7,858.4 567.3,848.0 568.0,851.6 568.6,844.7 569.2,852.5 569.9,843.0 570.5,848.0 571.2,850.7 571.8,855.4 572.4,848.9 573.1,848.0 573.7,864.9 574.3,849.8 575.0,859.4 575.6,851.6 576.3,848.0 576.9,853.4 577.5,841.5 578.2,838.4 578.8,861.5 579.4,860.5 580.1,852.5 580.7,852.5 581.3,850.7 582.0,848.9 582.6,859.4 583.3,848.9 583.9,870.9 584.5,854.4 585.2,846.3 585.8,851.6 586.4,848.9 587.1,857.4 587.7,846.3 588.3,847.2 589.0,858.4 589.6,843.0 590.3,846.3 590.9,863.8 591.5,855.4 592.2,848.9 592.8,843.8 593.4,855.4 594.1,846.3 594.7,843.0 595.3,839.2 596.0,838.4 596.6,863.8 597.3,856.4 597.9,842.2 598.5,854.4 599.2,850.7 599.8,863.8 600.4,862.6 601.1,843.8 601.7,862.6 602.3,850.7 603.0,847.2 603.6,844.7 604.3,843.8 604.9,851.6 605.5,862.6 606.2,848.0 606.8,849.8 607.4,858.4 608.1,839.2 608.7,851.6 609.3,848.9 610.0,845.5 610.6,853.4 611.3,857.4 611.9,854.4 612.5,855.4 613.2,856.4 613.8,848.0 614.4,857.4 615.1,856.4 615.7,846.3 616.3,848.0 617.0,849.8 617.6,850.7 618.3,854.4 618.9,858.4 619.5,839.9 620.2,852.5 620.8,845.5 621.4,847.2 622.1,846.3 622.7,858.4 623.3,862.6 624.0,851.6 624.6,854.4 625.3,851.6 625.9,846.3 626.5,855.4 627.2,854.4 627.8,858.4 628.4,840.7 629.1,861.5 629.7,853.4 630.4,852.5 631.0,845.5" fill="none" stroke="#ee1030" stroke-width="1.45" stroke-linejoin="round"/>
<polyline points="53.7,913.6 54.3,942.1 55.0,916.5 55.6,908.1 56.2,896.4 56.9,919.6 57.5,905.6 58.2,910.8 58.8,896.4 59.4,926.3 60.1,898.5 60.7,905.6 61.3,913.6 62.0,929.9 62.6,900.8 63.2,926.8 63.9,852.5 64.5,741.6 65.2,654.2 65.8,607.0 66.4,583.2 67.1,569.1 67.7,561.9 68.3,557.4 69.0,554.7 69.6,553.4 70.2,553.6 70.9,553.7 71.5,552.6 72.2,552.5 72.8,553.6 73.4,554.1 74.1,554.1 74.7,554.3 75.3,555.0 76.0,556.2 76.6,556.6 77.2,557.5 77.9,557.5 78.5,557.2 79.2,558.3 79.8,559.7 80.4,559.4 81.1,561.6 81.7,561.8 82.3,561.9 83.0,561.7 83.6,563.3 84.3,564.1 84.9,563.4 85.5,565.1 86.2,564.8 86.8,565.6 87.4,566.6 88.1,567.4 88.7,567.6 89.3,570.5 90.0,569.8 90.6,571.4 91.3,570.2 91.9,571.3 92.5,571.8 93.2,572.5 93.8,573.2 94.4,574.0 95.1,574.0 95.7,574.6 96.3,575.3 97.0,577.7 97.6,576.5 98.3,577.1 98.9,577.2 99.5,578.1 100.2,578.6 100.8,579.4 101.4,580.6 102.1,581.3 102.7,580.4 103.3,581.5 104.0,584.0 104.6,582.7 105.3,583.6 105.9,584.9 106.5,583.6 107.2,585.0 107.8,586.9 108.4,588.0 109.1,587.7 109.7,588.7 110.3,588.3 111.0,588.0 111.6,589.5 112.3,591.6 112.9,591.2 113.5,592.0 114.2,592.2 114.8,592.1 115.4,593.4 116.1,592.1 116.7,593.4 117.3,595.5 118.0,597.6 118.6,597.1 119.3,596.9 119.9,596.1 120.5,598.5 121.2,600.1 121.8,598.6 122.4,601.7 123.1,600.1 123.7,601.3 124.3,600.5 125.0,604.1 125.6,604.0 126.3,603.0 126.9,605.2 127.5,605.0 128.2,604.9 128.8,606.5 129.4,608.5 130.1,605.2 130.7,607.7 131.4,608.3 132.0,609.8 132.6,608.3 133.3,607.8 133.9,610.0 134.5,611.5 135.2,613.4 135.8,613.4 136.4,612.2 137.1,613.0 137.7,614.0 138.4,614.6 139.0,616.1 139.6,618.2 140.3,618.0 140.9,618.3 141.5,617.0 142.2,616.7 142.8,620.0 143.4,620.3 144.1,620.3 144.7,620.8 145.4,620.7 146.0,622.3 146.6,623.7 147.3,623.5 147.9,623.8 148.5,625.5 149.2,625.0 149.8,624.3 150.4,627.1 151.1,626.9 151.7,627.1 152.4,628.3 153.0,631.0 153.6,630.4 154.3,630.8 154.9,633.9 155.5,632.2 156.2,630.0 156.8,634.8 157.4,633.0 158.1,632.9 158.7,632.6 159.4,635.9 160.0,633.9 160.6,637.2 161.3,637.0 161.9,636.3 162.5,637.9 163.2,638.0 163.8,636.5 164.4,641.4 165.1,641.0 165.7,642.3 166.4,640.2 167.0,640.1 167.6,643.5 168.3,643.6 168.9,643.0 169.5,645.6 170.2,645.1 170.8,643.1 171.4,644.9 172.1,645.7 172.7,647.7 173.4,647.9 174.0,646.8 174.6,649.5 175.3,650.8 175.9,651.0 176.5,652.3 177.2,650.2 177.8,651.9 178.5,652.8 179.1,653.3 179.7,653.2 180.4,654.9 181.0,653.8 181.6,655.4 182.3,656.6 182.9,660.0 183.5,659.9 184.2,656.2 184.8,657.2 185.5,659.3 186.1,662.2 186.7,658.8 187.4,659.9 188.0,658.8 188.6,660.9 189.3,663.8 189.9,664.1 190.5,665.5 191.2,664.0 191.8,666.7 192.5,665.1 193.1,666.8 193.7,665.5 194.4,668.8 195.0,669.4 195.6,669.6 196.3,669.1 196.9,669.3 197.5,668.0 198.2,671.7 198.8,673.1 199.5,672.8 200.1,673.9 200.7,674.5 201.4,672.0 202.0,673.8 202.6,675.6 203.3,676.4 203.9,676.8 204.5,678.2 205.2,678.7 205.8,676.8 206.5,679.2 207.1,679.4 207.7,679.4 208.4,680.4 209.0,682.4 209.6,685.7 210.3,682.0 210.9,681.4 211.5,680.7 212.2,687.3 212.8,683.0 213.5,688.1 214.1,684.5 214.7,687.8 215.4,690.0 216.0,687.6 216.6,691.0 217.3,689.3 217.9,688.9 218.5,688.6 219.2,691.1 219.8,693.1 220.5,690.9 221.1,692.4 221.7,693.9 222.4,693.6 223.0,693.7 223.6,698.2 224.3,699.3 224.9,697.3 225.5,696.9 226.2,698.4 226.8,698.0 227.5,696.1 228.1,701.8 228.7,702.8 229.4,705.7 230.0,703.8 230.6,702.8 231.3,704.1 231.9,699.6 232.6,703.5 233.2,707.1 233.8,707.1 234.5,703.6 235.1,709.0 235.7,707.2 236.4,707.1 237.0,708.9 237.6,707.5 238.3,708.0 238.9,710.2 239.6,712.9 240.2,716.6 240.8,715.0 241.5,710.1 242.1,710.1 242.7,713.8 243.4,710.6 244.0,717.2 244.6,711.2 245.3,712.8 245.9,713.1 246.6,716.5 247.2,718.5 247.8,715.4 248.5,717.9 249.1,722.2 249.7,718.4 250.4,721.9 251.0,719.8 251.6,720.3 252.3,721.9 252.9,716.4 253.6,722.8 254.2,729.8 254.8,724.8 255.5,724.9 256.1,721.9 256.7,729.6 257.4,727.1 258.0,725.0 258.6,728.2 259.3,733.8 259.9,729.2 260.6,726.9 261.2,728.0 261.8,728.5 262.5,729.7 263.1,729.0 263.7,725.7 264.4,731.4 265.0,728.7 265.6,735.4 266.3,736.8 266.9,736.1 267.6,735.3 268.2,735.0 268.8,732.1 269.5,734.7 270.1,742.7 270.7,739.9 271.4,739.1 272.0,740.4 272.6,740.2 273.3,740.9 273.9,743.4 274.6,729.8 275.2,738.0 275.8,745.7 276.5,744.0 277.1,747.0 277.7,739.8 278.4,739.8 279.0,749.7 279.7,749.4 280.3,745.9 280.9,754.6 281.6,751.3 282.2,750.8 282.8,748.6 283.5,746.2 284.1,744.5 284.7,758.0 285.4,752.3 286.0,751.6 286.7,755.5 287.3,750.8 287.9,752.1 288.6,749.7 289.2,755.0 289.8,755.7 290.5,753.0 291.1,756.1 291.7,751.8 292.4,757.0 293.0,763.4 293.7,753.0 294.3,760.1 294.9,760.1 295.6,756.8 296.2,755.2 296.8,766.4 297.5,762.7 298.1,759.5 298.7,761.7 299.4,761.3 300.0,759.1 300.7,759.3 301.3,762.3 301.9,760.3 302.6,766.8 303.2,771.2 303.8,763.1 304.5,771.7 305.1,767.9 305.7,768.2 306.4,766.6 307.0,766.4 307.7,772.9 308.3,773.9 308.9,770.9 309.6,770.2 310.2,776.7 310.8,770.7 311.5,768.2 312.1,777.2 312.7,770.9 313.4,779.9 314.0,779.6 314.7,776.2 315.3,776.7 315.9,778.3 316.6,779.4 317.2,787.9 317.8,775.9 318.5,781.6 319.1,776.9 319.7,778.5 320.4,778.3 321.0,786.6 321.7,782.2 322.3,781.3 322.9,793.5 323.6,778.8 324.2,779.6 324.8,785.1 325.5,791.1 326.1,791.1 326.7,795.6 327.4,786.6 328.0,791.8 328.7,784.5 329.3,786.0 329.9,795.6 330.6,783.6 331.2,787.2 331.8,793.2 332.5,784.5 333.1,795.6 333.8,797.4 334.4,790.1 335.0,791.8 335.7,786.9 336.3,792.5 336.9,786.9 337.6,799.7 338.2,797.1 338.8,800.1 339.5,793.2 340.1,796.7 340.8,804.9 341.4,797.4 342.0,802.5 342.7,799.7 343.3,807.5 343.9,797.4 344.6,796.3 345.2,806.2 345.8,808.4 346.5,809.7 347.1,804.9 347.8,800.1 348.4,815.0 349.0,801.7 349.7,801.7 350.3,799.3 350.9,802.5 351.6,807.5 352.2,800.1 352.8,812.1 353.5,806.6 354.1,803.3 354.8,816.0 355.4,816.5 356.0,812.5 356.7,811.1 357.3,817.0 357.9,811.6 358.6,821.3 359.2,810.7 359.8,818.0 360.5,807.1 361.1,815.5 361.8,817.0 362.4,826.5 363.0,804.5 363.7,811.1 364.3,817.5 364.9,812.5 365.6,821.3 366.2,814.5 366.8,819.1 367.5,821.8 368.1,811.6 368.8,808.8 369.4,821.3 370.0,821.8 370.7,819.6 371.3,810.2 371.9,819.1 372.6,823.0 373.2,814.5 373.8,830.2 374.5,827.7 375.1,820.2 375.8,816.5 376.4,819.1 377.0,817.5 377.7,817.0 378.3,830.2 378.9,832.2 379.6,821.8 380.2,825.9 380.9,835.6 381.5,831.5 382.1,832.8 382.8,832.2 383.4,824.1 384.0,827.1 384.7,833.5 385.3,843.8 385.9,827.1 386.6,837.7 387.2,839.2 387.9,822.4 388.5,832.8 389.1,838.4 389.8,839.2 390.4,830.8 391.0,829.6 391.7,839.2 392.3,839.2 392.9,832.8 393.6,846.3 394.2,839.9 394.9,846.3 395.5,837.0 396.1,828.3 396.8,839.9 397.4,843.0 398.0,834.2 398.7,830.8 399.3,839.2 399.9,856.4 400.6,835.6 401.2,843.8 401.9,845.5 402.5,842.2 403.1,841.5 403.8,857.4 404.4,835.6 405.0,843.8 405.7,844.7 406.3,839.2 406.9,848.0 407.6,852.5 408.2,848.9 408.9,857.4 409.5,849.8 410.1,851.6 410.8,846.3 411.4,854.4 412.0,849.8 412.7,841.5 413.3,850.7 413.9,850.7 414.6,851.6 415.2,854.4 415.9,847.2 416.5,866.1 417.1,854.4 417.8,864.9 418.4,858.4 419.0,849.8 419.7,849.8 420.3,858.4 420.9,856.4 421.6,857.4 422.2,855.4 422.9,866.1 423.5,850.7 424.1,864.9 424.8,859.4 425.4,857.4 426.0,855.4 426.7,855.4 427.3,858.4 428.0,864.9 428.6,846.3 429.2,859.4 429.9,863.8 430.5,861.5 431.1,856.4 431.8,870.9 432.4,864.9 433.0,858.4 433.7,863.8 434.3,870.9 435.0,855.4 435.6,863.8 436.2,869.7 436.9,862.6 437.5,867.2 438.1,848.0 438.8,869.7 439.4,873.5 440.0,864.9 440.7,849.8 441.3,866.1 442.0,860.5 442.6,877.6 443.2,869.7 443.9,867.2 444.5,861.5 445.1,870.9 445.8,862.6 446.4,877.6 447.0,864.9 447.7,868.4 448.3,856.4 449.0,857.4 449.6,863.8 450.2,882.1 450.9,853.4 451.5,892.0 452.1,879.1 452.8,885.2 453.4,869.7 454.0,863.8 454.7,855.4 455.3,868.4 456.0,876.2 456.6,872.2 457.2,868.4 457.9,870.9 458.5,867.2 459.1,866.1 459.8,868.4 460.4,879.1 461.0,870.9 461.7,872.2 462.3,869.7 463.0,886.8 463.6,868.4 464.2,882.1 464.9,883.6 465.5,890.3 466.1,890.3 466.8,862.6 467.4,873.5 468.0,872.2 468.7,882.1 469.3,877.6 470.0,868.4 470.6,867.2 471.2,888.5 471.9,885.2 472.5,892.0 473.1,867.2 473.8,873.5 474.4,883.6 475.0,895.8 475.7,897.7 476.3,890.3 477.0,897.7 477.6,882.1 478.2,890.3 478.9,901.8 479.5,874.9 480.1,893.9 480.8,888.5 481.4,876.2 482.1,885.2 482.7,893.9 483.3,879.1 484.0,886.8 484.6,890.3 485.2,899.8 485.9,872.2 486.5,885.2 487.1,901.8 487.8,873.5 488.4,883.6 489.1,866.1 489.7,893.9 490.3,890.3 491.0,901.8 491.6,888.5 492.2,906.3 492.9,883.6 493.5,890.3 494.1,885.2 494.8,885.2 495.4,890.3 496.1,897.7 496.7,877.6 497.3,886.8 498.0,901.8 498.6,886.8 499.2,882.1 499.9,892.0 500.5,885.2 501.1,897.7 501.8,888.5 502.4,877.6 503.1,901.8 503.7,897.7 504.3,897.7 505.0,906.3 505.6,880.6 506.2,897.7 506.9,904.0 507.5,886.8 508.1,882.1 508.8,890.3 509.4,904.0 510.1,899.8 510.7,916.2 511.3,874.9 512.0,882.1 512.6,897.7 513.2,886.8 513.9,913.6 514.5,897.7 515.1,892.0 515.8,886.8 516.4,895.8 517.1,877.6 517.7,913.6 518.3,890.3 519.0,901.8 519.6,906.3 520.2,904.0 520.9,883.6 521.5,901.8 522.1,874.9 522.8,890.3 523.4,899.8 524.1,899.8 524.7,880.6 525.3,895.8 526.0,908.6 526.6,888.5 527.2,928.2 527.9,908.6 528.5,908.6 529.2,901.8 529.8,888.5 530.4,892.0 531.1,895.8 531.7,908.6 532.3,919.0 533.0,908.6 533.6,906.3 534.2,890.3 534.9,911.0 535.5,904.0 536.2,893.9 536.8,913.6 537.4,888.5 538.1,888.5 538.7,895.8 539.3,913.6 540.0,890.3 540.6,885.2 541.2,899.8 541.9,899.8 542.5,908.6 543.2,885.2 543.8,904.0 544.4,925.0 545.1,895.8 545.7,890.3 546.3,904.0 547.0,899.8 547.6,906.3 548.2,893.9 548.9,906.3 549.5,886.8 550.2,883.6 550.8,911.0 551.4,899.8 552.1,880.6 552.7,904.0 553.3,899.8 554.0,892.0 554.6,901.8 555.2,888.5 555.9,916.2 556.5,908.6 557.2,913.6 557.8,913.6 558.4,897.7 559.1,893.9 559.7,913.6 560.3,899.8 561.0,895.8 561.6,897.7 562.2,908.6 562.9,892.0 563.5,899.8 564.2,892.0 564.8,919.0 565.4,895.8 566.1,885.2 566.7,911.0 567.3,888.5 568.0,908.6 568.6,911.0 569.2,885.2 569.9,916.2 570.5,901.8 571.2,895.8 571.8,895.8 572.4,901.8 573.1,904.0 573.7,897.7 574.3,899.8 575.0,895.8 575.6,925.0 576.3,913.6 576.9,921.9 577.5,908.6 578.2,899.8 578.8,928.2 579.4,911.0 580.1,895.8 580.7,906.3 581.3,916.2 582.0,931.6 582.6,901.8 583.3,901.8 583.9,906.3 584.5,908.6 585.2,893.9 585.8,882.1 586.4,901.8 587.1,906.3 587.7,893.9 588.3,904.0 589.0,901.8 589.6,897.7 590.3,901.8 590.9,901.8 591.5,913.6 592.2,906.3 592.8,895.8 593.4,919.0 594.1,939.1 594.7,892.0 595.3,904.0 596.0,904.0 596.6,913.6 597.3,919.0 597.9,897.7 598.5,925.0 599.2,916.2 599.8,921.9 600.4,904.0 601.1,895.8 601.7,897.7 602.3,901.8 603.0,895.8 603.6,906.3 604.3,908.6 604.9,890.3 605.5,908.6 606.2,904.0 606.8,939.1 607.4,919.0 608.1,892.0 608.7,916.2 609.3,899.8 610.0,911.0 610.6,888.5 611.3,935.2 611.9,906.3 612.5,913.6 613.2,895.8 613.8,888.5 614.4,919.0 615.1,906.3 615.7,893.9 616.3,893.9 617.0,908.6 617.6,906.3 618.3,911.0 618.9,897.7 619.5,908.6 620.2,908.6 620.8,913.6 621.4,897.7 622.1,919.0 622.7,893.9 623.3,908.6 624.0,895.8 624.6,919.0 625.3,925.0 625.9,906.3 626.5,897.7 627.2,899.8 627.8,906.3 628.4,888.5 629.1,897.7 629.7,901.8 630.4,921.9 631.0,913.6" fill="none" stroke="#0e0eb4" stroke-width="1.45" stroke-linejoin="round"/>
</g>
<rect x="53.7" y="551.0" width="576.3" height="412.29999999999995" fill="none" stroke="#111" stroke-width="1.6"/>
<text x="53.7" y="979.6" text-anchor="middle" font-size="17">0</text>
<line x1="153.2" y1="963.3" x2="153.2" y2="953.8" stroke="#111" stroke-width="1.6"/>
<line x1="153.2" y1="551.0" x2="153.2" y2="560.5" stroke="#111" stroke-width="1.6"/>
<text x="153.2" y="979.6" text-anchor="middle" font-size="17">5</text>
<line x1="252.6" y1="963.3" x2="252.6" y2="953.8" stroke="#111" stroke-width="1.6"/>
<line x1="252.6" y1="551.0" x2="252.6" y2="560.5" stroke="#111" stroke-width="1.6"/>
<text x="252.6" y="979.6" text-anchor="middle" font-size="17">10</text>
<line x1="352.1" y1="963.3" x2="352.1" y2="953.8" stroke="#111" stroke-width="1.6"/>
<line x1="352.1" y1="551.0" x2="352.1" y2="560.5" stroke="#111" stroke-width="1.6"/>
<text x="352.1" y="979.6" text-anchor="middle" font-size="17">15</text>
<line x1="451.5" y1="963.3" x2="451.5" y2="953.8" stroke="#111" stroke-width="1.6"/>
<line x1="451.5" y1="551.0" x2="451.5" y2="560.5" stroke="#111" stroke-width="1.6"/>
<text x="451.5" y="979.6" text-anchor="middle" font-size="17">20</text>
<line x1="551.0" y1="963.3" x2="551.0" y2="953.8" stroke="#111" stroke-width="1.6"/>
<line x1="551.0" y1="551.0" x2="551.0" y2="560.5" stroke="#111" stroke-width="1.6"/>
<text x="551.0" y="979.6" text-anchor="middle" font-size="17">25</text>
<line x1="53.7" y1="921.9" x2="58.7" y2="921.9" stroke="#111" stroke-width="1.6"/>
<line x1="630.0" y1="921.9" x2="625.0" y2="921.9" stroke="#111" stroke-width="1.6"/>
<line x1="53.7" y1="897.7" x2="58.7" y2="897.7" stroke="#111" stroke-width="1.6"/>
<line x1="630.0" y1="897.7" x2="625.0" y2="897.7" stroke="#111" stroke-width="1.6"/>
<line x1="53.7" y1="880.6" x2="58.7" y2="880.6" stroke="#111" stroke-width="1.6"/>
<line x1="630.0" y1="880.6" x2="625.0" y2="880.6" stroke="#111" stroke-width="1.6"/>
<line x1="53.7" y1="867.2" x2="58.7" y2="867.2" stroke="#111" stroke-width="1.6"/>
<line x1="630.0" y1="867.2" x2="625.0" y2="867.2" stroke="#111" stroke-width="1.6"/>
<line x1="53.7" y1="856.4" x2="58.7" y2="856.4" stroke="#111" stroke-width="1.6"/>
<line x1="630.0" y1="856.4" x2="625.0" y2="856.4" stroke="#111" stroke-width="1.6"/>
<line x1="53.7" y1="847.2" x2="58.7" y2="847.2" stroke="#111" stroke-width="1.6"/>
<line x1="630.0" y1="847.2" x2="625.0" y2="847.2" stroke="#111" stroke-width="1.6"/>
<line x1="53.7" y1="839.2" x2="58.7" y2="839.2" stroke="#111" stroke-width="1.6"/>
<line x1="630.0" y1="839.2" x2="625.0" y2="839.2" stroke="#111" stroke-width="1.6"/>
<line x1="53.7" y1="832.2" x2="58.7" y2="832.2" stroke="#111" stroke-width="1.6"/>
<line x1="630.0" y1="832.2" x2="625.0" y2="832.2" stroke="#111" stroke-width="1.6"/>
<text x="25" y="970.6" font-size="17">10</text>
<text x="42.5" y="963.7" font-size="10.5">1</text>
<line x1="53.7" y1="784.5" x2="58.7" y2="784.5" stroke="#111" stroke-width="1.6"/>
<line x1="630.0" y1="784.5" x2="625.0" y2="784.5" stroke="#111" stroke-width="1.6"/>
<line x1="53.7" y1="760.3" x2="58.7" y2="760.3" stroke="#111" stroke-width="1.6"/>
<line x1="630.0" y1="760.3" x2="625.0" y2="760.3" stroke="#111" stroke-width="1.6"/>
<line x1="53.7" y1="743.1" x2="58.7" y2="743.1" stroke="#111" stroke-width="1.6"/>
<line x1="630.0" y1="743.1" x2="625.0" y2="743.1" stroke="#111" stroke-width="1.6"/>
<line x1="53.7" y1="729.8" x2="58.7" y2="729.8" stroke="#111" stroke-width="1.6"/>
<line x1="630.0" y1="729.8" x2="625.0" y2="729.8" stroke="#111" stroke-width="1.6"/>
<line x1="53.7" y1="718.9" x2="58.7" y2="718.9" stroke="#111" stroke-width="1.6"/>
<line x1="630.0" y1="718.9" x2="625.0" y2="718.9" stroke="#111" stroke-width="1.6"/>
<line x1="53.7" y1="709.7" x2="58.7" y2="709.7" stroke="#111" stroke-width="1.6"/>
<line x1="630.0" y1="709.7" x2="625.0" y2="709.7" stroke="#111" stroke-width="1.6"/>
<line x1="53.7" y1="701.8" x2="58.7" y2="701.8" stroke="#111" stroke-width="1.6"/>
<line x1="630.0" y1="701.8" x2="625.0" y2="701.8" stroke="#111" stroke-width="1.6"/>
<line x1="53.7" y1="694.7" x2="58.7" y2="694.7" stroke="#111" stroke-width="1.6"/>
<line x1="630.0" y1="694.7" x2="625.0" y2="694.7" stroke="#111" stroke-width="1.6"/>
<line x1="53.7" y1="825.9" x2="63.7" y2="825.9" stroke="#111" stroke-width="1.6"/>
<line x1="630.0" y1="825.9" x2="620.0" y2="825.9" stroke="#111" stroke-width="1.6"/>
<text x="25" y="833.2" font-size="17">10</text>
<text x="42.5" y="826.3" font-size="10.5">2</text>
<line x1="53.7" y1="647.1" x2="58.7" y2="647.1" stroke="#111" stroke-width="1.6"/>
<line x1="630.0" y1="647.1" x2="625.0" y2="647.1" stroke="#111" stroke-width="1.6"/>
<line x1="53.7" y1="622.9" x2="58.7" y2="622.9" stroke="#111" stroke-width="1.6"/>
<line x1="630.0" y1="622.9" x2="625.0" y2="622.9" stroke="#111" stroke-width="1.6"/>
<line x1="53.7" y1="605.7" x2="58.7" y2="605.7" stroke="#111" stroke-width="1.6"/>
<line x1="630.0" y1="605.7" x2="625.0" y2="605.7" stroke="#111" stroke-width="1.6"/>
<line x1="53.7" y1="592.4" x2="58.7" y2="592.4" stroke="#111" stroke-width="1.6"/>
<line x1="630.0" y1="592.4" x2="625.0" y2="592.4" stroke="#111" stroke-width="1.6"/>
<line x1="53.7" y1="581.5" x2="58.7" y2="581.5" stroke="#111" stroke-width="1.6"/>
<line x1="630.0" y1="581.5" x2="625.0" y2="581.5" stroke="#111" stroke-width="1.6"/>
<line x1="53.7" y1="572.3" x2="58.7" y2="572.3" stroke="#111" stroke-width="1.6"/>
<line x1="630.0" y1="572.3" x2="625.0" y2="572.3" stroke="#111" stroke-width="1.6"/>
<line x1="53.7" y1="564.3" x2="58.7" y2="564.3" stroke="#111" stroke-width="1.6"/>
<line x1="630.0" y1="564.3" x2="625.0" y2="564.3" stroke="#111" stroke-width="1.6"/>
<line x1="53.7" y1="557.3" x2="58.7" y2="557.3" stroke="#111" stroke-width="1.6"/>
<line x1="630.0" y1="557.3" x2="625.0" y2="557.3" stroke="#111" stroke-width="1.6"/>
<line x1="53.7" y1="688.4" x2="63.7" y2="688.4" stroke="#111" stroke-width="1.6"/>
<line x1="630.0" y1="688.4" x2="620.0" y2="688.4" stroke="#111" stroke-width="1.6"/>
<text x="25" y="695.7" font-size="17">10</text>
<text x="42.5" y="688.8" font-size="10.5">3</text>
<text x="25" y="558.3" font-size="17">10</text>
<text x="42.5" y="551.4" font-size="10.5">4</text>
<text x="300.5" y="1006.3" font-size="21.3">Time (ns)</text>
<text transform="translate(15.3,755.4) rotate(-90)" text-anchor="middle" font-size="21.3">Fluorescence intensity (counts)</text>
<text x="68.5" y="941.8" font-size="28.5">(b)</text>
<text x="268.4" y="604.3" font-size="21.3">rsFastLime in TRIS buffer:</text>
<line x1="269.5" y1="641.1" x2="294.9" y2="641.1" stroke="#0e0eb4" stroke-width="1.5"/>
<text x="302.7" y="646.5" font-size="21.3">at maximum fluorescence signal</text>
<line x1="269.5" y1="669.2" x2="294.9" y2="669.2" stroke="#ee1030" stroke-width="1.5"/>
<text x="302.7" y="674.4" font-size="21.3">at 10% of maximum signal</text>
</svg>
</body></html>
